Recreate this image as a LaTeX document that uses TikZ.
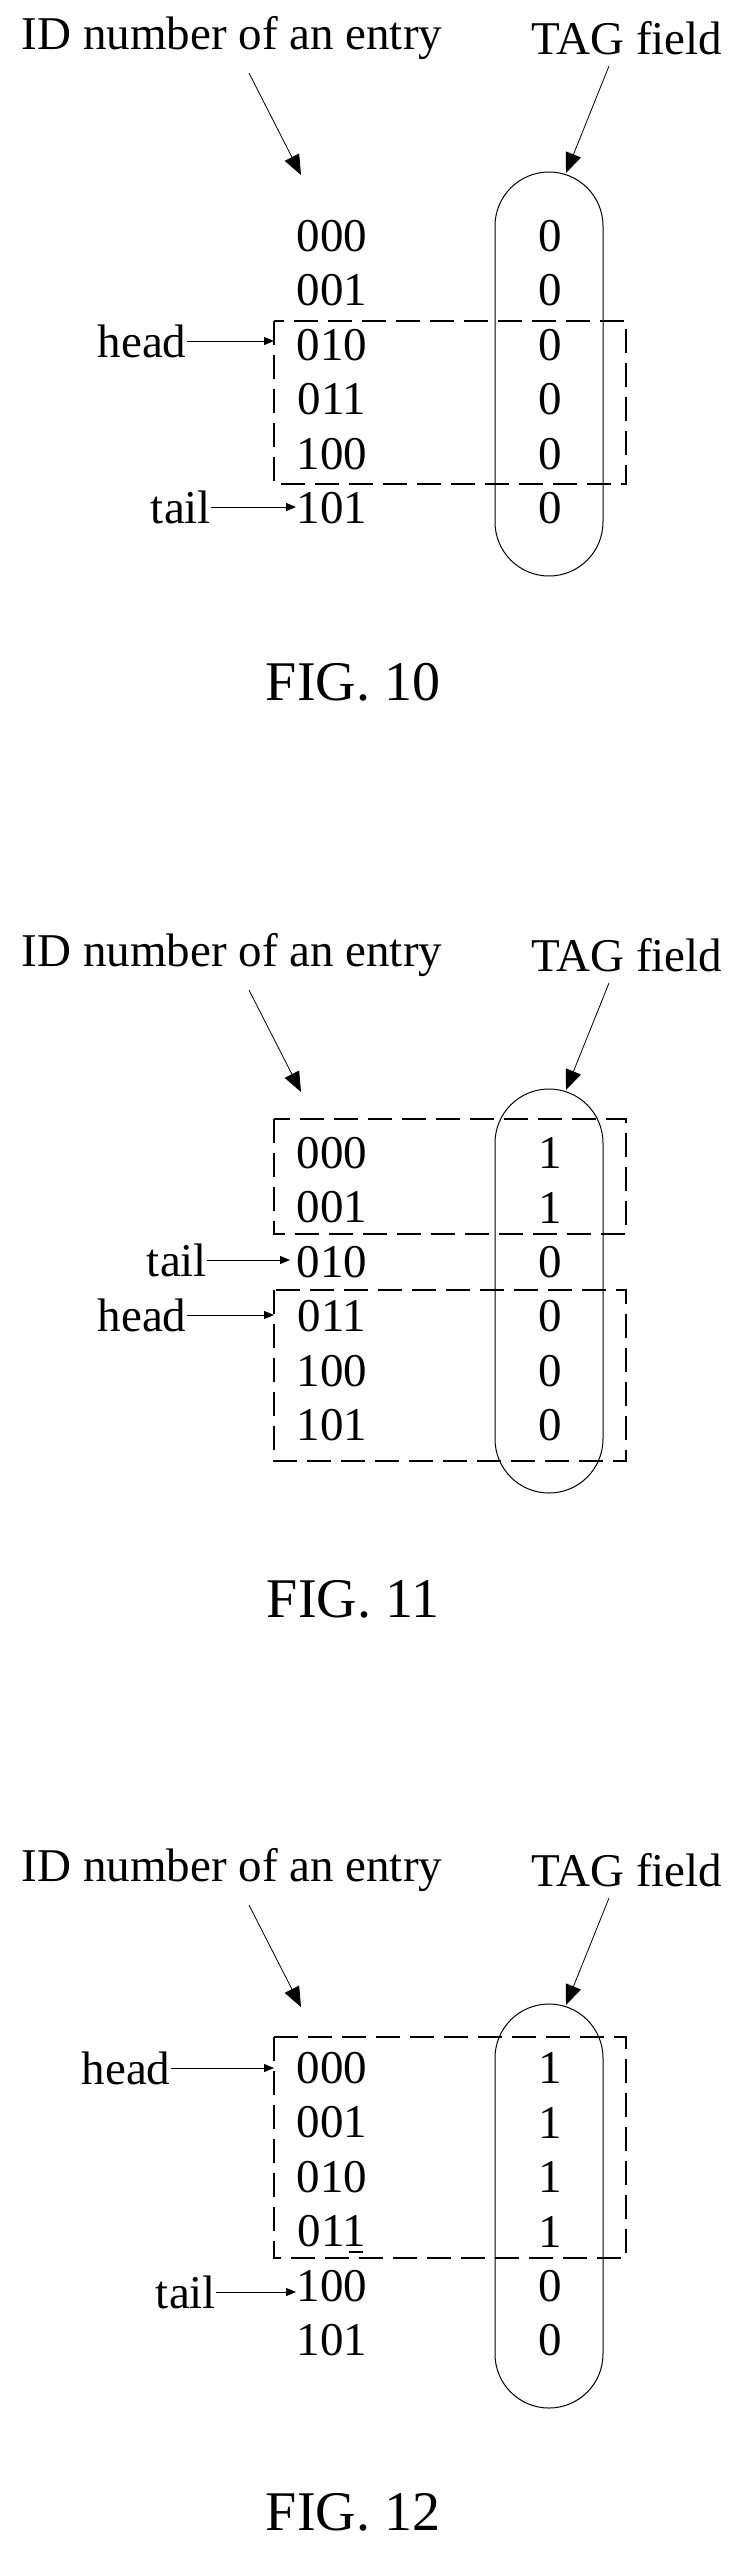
\documentclass[tikz,border=0pt]{standalone}
\usepackage{fontspec}
\setmainfont{Liberation Serif}
\usetikzlibrary{arrows.meta}
\begin{document}
\begin{tikzpicture}[x=0.5pt,y=-0.5pt,
  txt/.style={font=\fontsize{23.5}{25}\selectfont, inner sep=0pt},
  figt/.style={font=\fontsize{28}{30}\selectfont, inner sep=0pt},
  big/.style={-{Triangle[length=10pt,width=8pt]}, line width=0.4pt},
  small/.style={-{Triangle[length=5pt,width=4pt]}, line width=0.5pt},
  dbox/.style={dash pattern=on 12pt off 5pt, line width=0.9pt},
  caps/.style={line width=0.5pt, rounded corners=27pt}]
\useasboundingbox (0,0) rectangle (740,2570);
\newcommand\heading[1]{%
  \node[txt] (#1id) at (232,38) {ID number of an entry};
  \node[txt] (#1tag) at (627,38) {TAG field};
  \coordinate (#1ida) at (249,73); \coordinate (#1idb) at (301,175);
  \coordinate (#1taga) at (609,66); \coordinate (#1tagb) at (566,173);
  \draw[big] (#1ida) -- (#1idb);
  \draw[big] (#1taga) -- (#1tagb);
  \draw[caps] (495,172) rectangle (603,576);
}
% ---------- FIG 10
\begin{scope}
\heading{a}
\foreach \i/\id/\t in {0/000/0,1/001/0,2/010/0,3/011/0,4/100/0,5/101/0}{
  \node[txt] (ar\i) at (332,236+54.5*\i) {\id};
  \node[txt] (at\i) at (550,236+54.5*\i) {\t};
}
\draw[dbox] (274,321) rectangle (626,484);
\node[txt] (ahead) at (142,341) {head};
\node[txt] (atail) at (181,507) {tail};
\coordinate (aheadE) at (274,341); \coordinate (atailE) at (296,507);
\draw[small] (ahead.east) -- (aheadE);
\draw[small] (atail.east) -- (atailE);
\node[figt] (afig) at (353,682) {FIG. 10};
\end{scope}
% ---------- FIG 11
\begin{scope}[shift={(0,917)}]
\heading{b}
\foreach \i/\id/\t in {0/000/1,1/001/1,2/010/0,3/011/0,4/100/0,5/101/0}{
  \node[txt] (br\i) at (332,236+54.5*\i) {\id};
  \node[txt] (bt\i) at (550,236+54.5*\i) {\t};
}
\draw[dbox] (274,202) rectangle (626,317);
\draw[dbox] (274,373) rectangle (626,544);
\node[txt] (btail) at (177,343) {tail};
\node[txt] (bhead) at (142,398) {head};
\coordinate (btailE) at (290,343); \coordinate (bheadE) at (274,398);
\draw[small] (btail.east) -- (btailE);
\draw[small] (bhead.east) -- (bheadE);
\node[figt] (bfig) at (353,682) {FIG. 11};
\end{scope}
% ---------- FIG 12
\begin{scope}[shift={(0,1832)}]
\heading{c}
\foreach \i/\id/\t in {0/000/1,1/001/1,2/010/1,3/011/1,4/100/0,5/101/0}{
  \node[txt] (cr\i) at (332,236+54.5*\i) {\id};
  \node[txt] (ct\i) at (550,236+54.5*\i) {\t};
}
\draw[dbox] (274,205) rectangle (626,426);
\draw[line width=0.7pt] (349,420) -- (363,420);
\node[txt] (chead) at (126,236) {head};
\node[txt] (ctail) at (186,460) {tail};
\coordinate (cheadE) at (274,236); \coordinate (ctailE) at (296,460);
\draw[small] (chead.east) -- (cheadE);
\draw[small] (ctail.east) -- (ctailE);
\node[figt] (cfig) at (353,680) {FIG. 12};
\end{scope}
\end{tikzpicture}
\end{document}
